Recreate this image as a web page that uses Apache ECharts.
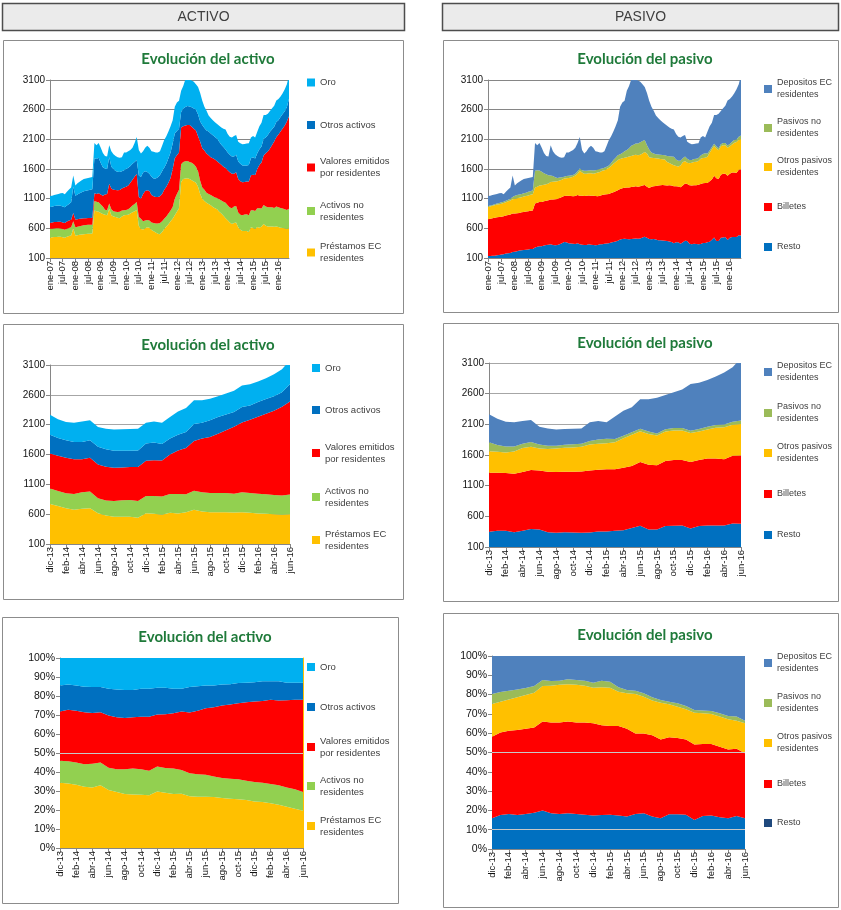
<!DOCTYPE html>
<html lang="es">
<head>
<meta charset="utf-8">
<title>Evolución del activo y del pasivo</title>
<script src="https://cdn.jsdelivr.net/npm/echarts@6/dist/echarts.min.js"></script>
<style>
html,body{margin:0;padding:0;background:#ffffff;}
#chart{width:841px;height:910px;}
</style>
</head>
<body>
<div id="chart"></div>
<script>
// ---------------- categories ----------------
const monthNames = ['ene','feb','mar','abr','may','jun','jul','ago','sep','oct','nov','dic'];
const longCategories = [];
for (let y = 2007; y <= 2016; y++) {
  for (let m = 0; m < 12; m++) {
    if (y === 2016 && m > 5) break;
    longCategories.push(monthNames[m] + '-' + String(y % 100).padStart(2, '0'));
  }
}
const shortStart = longCategories.indexOf('dic-13');
const shortCategories = longCategories.slice(shortStart);

// ---------------- ACTIVO (ene-07 .. jun-16) ----------------
const activoPrestamos = [
  445,450,455,455,460,458,450,440,460,470,480,
  600,480,485,490,495,500,505,508,510,512,
  900,890,880,860,840,830,820,930,820,800,
  790,780,770,800,820,825,830,850,870,890,
  910,640,590,580,600,620,610,570,550,530,
  510,500,540,590,630,670,720,760,820,880,
  940,1380,1430,1440,1445,1430,1410,1390,1370,1300,
  1180,1100,1060,1030,1010,990,960,940,920,880,850,810,
  770,735,700,672,689,700,617,578,556,556,556,539,617,606,589,622,611,633,672,644,633,633,633,628,633,622,611,606,600,589,600];
const activoNoResidentes = [
  149,145,143,145,140,140,140,135,135,135,140,
  120,140,140,145,150,150,150,152,150,150,
  160,160,160,140,130,85,85,90,100,90,
  90,95,110,100,85,85,90,100,115,120,
  135,150,170,140,130,120,120,130,140,150,
  170,190,180,170,170,180,180,200,280,300,
  310,300,290,290,290,290,295,290,270,260,
  220,190,190,170,170,170,180,180,190,210,220,240,
  260,255,250,267,278,278,250,250,266,277,283,283,289,300,305,317,328,300,322,323,323,323,323,316,334,334,333,327,322,322,328];
const activoValores = [
  101,105,107,108,112,112,110,115,120,125,125,
  140,130,130,125,120,120,117,115,115,116,
  130,130,150,170,180,255,275,330,350,360,
  365,365,365,370,385,390,400,420,435,460,
  475,340,340,460,500,500,500,460,450,450,
  450,450,460,490,500,520,550,640,680,650,
  630,620,600,605,605,620,605,600,610,590,
  660,660,660,660,650,640,640,640,620,610,600,590,
  585,588,594,583,555,566,566,566,556,550,550,567,588,599,606,661,728,778,834,900,938,990,1050,1120,1170,1225,1290,1350,1410,1490,1560];
const activoOtros = [
  265,265,270,272,273,270,270,265,270,280,295,
  440,400,415,430,445,455,463,465,475,482,
  590,590,600,530,480,440,420,450,370,350,
  320,315,305,290,290,300,300,280,270,250,
  230,360,365,360,330,310,290,310,300,310,
  330,360,380,370,390,410,430,430,420,410,
  400,260,300,310,320,315,330,340,350,370,
  340,390,380,390,400,400,390,380,380,360,340,330,
  315,300,295,289,289,295,295,295,283,278,272,278,289,295,278,267,266,267,283,266,278,282,266,247,257,241,244,246,243,243,295];
const activoOro = [
  185,185,185,190,195,210,225,220,230,245,250,
  190,170,190,195,200,205,205,210,205,205,
  260,230,250,260,240,210,210,200,260,250,
  255,245,240,240,300,280,280,270,270,320,
  390,430,395,360,400,440,440,430,450,440,
  420,400,430,470,460,450,440,390,450,480,
  470,360,380,465,460,455,450,450,430,460,
  480,410,360,330,270,260,250,250,250,270,290,310,
  335,312,305,322,344,333,333,344,356,361,367,366,350,355,355,361,389,400,400,378,361,350,350,356,362,356,344,349,369,386,397];

// ---------------- PASIVO (ene-07 .. jun-16) ----------------
const pasivoResto = [
  135,135,138,140,145,150,160,165,175,180,185,
  200,205,215,225,230,235,240,245,250,250,
  275,290,300,300,310,320,325,330,320,315,
  320,330,350,370,365,350,345,340,335,350,
  330,325,320,320,330,325,320,315,320,330,
  330,340,345,350,360,370,380,390,410,420,
  425,420,415,420,425,430,425,430,445,460,
  440,420,415,420,410,400,400,395,390,385,380,370,
  347,364,364,342,364,392,386,342,331,342,336,331,336,353,353,364,375,408,447,386,386,441,447,452,403,441,452,452,452,485,480];
const pasivoBilletes = [
  617,625,632,638,640,640,635,640,640,645,650,
  650,645,640,635,640,640,645,645,645,650,
  745,740,745,745,745,745,750,755,765,775,
  775,780,780,775,785,798,800,800,810,810,
  820,823,825,830,825,825,830,830,820,820,
  830,830,830,830,835,840,845,850,855,855,
  860,870,875,875,875,880,875,880,875,870,
  860,860,885,890,905,920,925,935,935,935,945,950,
  964,947,941,952,958,963,963,986,991,986,992,1002,1013,1007,1013,1002,1018,1013,1040,1057,1046,1063,1073,1068,1084,1079,1090,1090,1079,1101,1112];
const pasivoOtros = [
  208,210,210,212,215,218,220,220,225,230,235,
  240,250,250,255,255,260,260,265,270,275,
  270,270,275,280,280,280,280,295,300,300,
  300,295,290,295,295,302,310,330,345,360,
  420,392,375,370,375,380,370,385,400,400,
  410,410,425,440,455,480,495,510,505,505,
  505,510,520,525,530,530,530,530,540,555,
  560,520,490,475,465,455,445,435,435,400,375,360,
  352,341,336,364,391,380,358,368,385,390,396,402,424,424,424,440,480,510,500,501,484,479,479,479,473,463,473,501,523,507,512];
const pasivoNoResidentes = [
  17,15,15,15,18,20,25,25,25,25,30,
  40,50,55,55,55,55,55,60,60,65,
  280,280,255,230,195,165,140,110,95,70,
  55,50,40,30,35,35,35,30,30,40,
  40,40,50,50,45,50,55,50,50,50,
  40,40,40,40,50,60,70,80,80,90,
  110,120,140,170,180,190,200,210,210,205,
  140,130,90,75,70,70,70,70,70,100,115,130,
  143,110,99,80,70,75,65,55,45,50,50,50,55,70,75,55,40,40,40,40,35,35,40,40,35,40,45,45,45,50,60];
const pasivoDepositos = [
  168,165,165,165,162,162,155,125,150,175,190,
  360,170,200,215,230,240,240,235,230,225,
  470,420,465,405,340,310,315,510,420,390,
  370,345,330,330,400,395,410,420,440,480,
  530,340,290,330,385,410,385,320,300,280,
  270,280,350,430,450,480,530,590,800,850,
  850,1000,1050,1120,1110,1080,1060,1020,960,890,
  880,820,770,720,650,615,580,555,530,510,485,470,
  459,428,404,395,372,362,289,282,265,254,254,248,305,301,268,367,409,407,484,527,582,560,583,628,761,755,762,790,845,887,1016];

// ---------------- % structure (dic-13 .. jun-16) ----------------
const pctPrestamos   = [34.4,34.0,33.3,32.3,31.9,33.0,30.5,29.5,28.4,28.2,28.0,27.7,29.8,29.1,28.4,28.6,27.3,27.0,27.0,26.8,26.3,25.9,25.6,25.2,24.5,24.2,23.5,22.8,21.7,20.6,19.6];
const pctActNoRes    = [11.5,11.7,11.7,11.8,12.4,12.0,11.8,11.9,13.0,13.6,13.4,12.9,13.1,13.0,13.4,12.5,12.0,11.8,11.5,10.8,10.6,10.6,10.6,10.2,10.2,10.2,10.2,10.2,10.2,10.3,9.9];
const pctValores     = [25.9,27.1,27.3,27.3,26.8,26.4,27.4,27.4,27.0,27.0,27.7,28.5,27.3,28.3,29.1,30.7,32.0,33.5,35.0,36.5,38.1,39.0,40.0,41.3,42.4,43.0,44.3,44.6,45.9,47.1,48.5];
const pctOtrosAct    = [13.7,13.3,13.2,13.5,13.7,13.4,14.1,14.6,14.8,14.4,14.7,14.7,14.1,13.9,12.9,12.0,13.4,12.8,12.0,11.4,11.1,10.7,10.6,10.3,10.2,10.3,9.7,10.1,9.2,9.0,9.0];
const pctOro         = [14.5,13.9,14.5,15.1,15.2,15.2,16.2,16.6,16.8,16.8,16.2,16.2,15.7,15.7,16.2,16.2,15.3,14.9,14.5,14.5,13.9,13.8,13.2,13.0,12.7,12.3,12.3,12.3,13.0,13.0,13.0];

const pctResto       = [15.9,17.6,18.1,17.6,18.1,18.8,19.9,18.5,18.1,18.5,18.1,17.8,17.3,17.6,17.8,17.3,16.8,18.1,18.5,16.8,15.9,18.0,18.0,17.8,15.0,17.1,17.3,16.4,15.9,17.1,15.9];
const pctBilletes    = [42.3,42.7,43.2,44.1,44.2,44.2,46.2,47.0,47.4,47.6,47.4,47.7,47.8,46.5,45.9,46.4,45.5,41.8,41.4,42.1,40.9,39.9,39.5,39.0,39.1,37.3,37.1,36.6,35.7,34.9,33.7];
const pctOtrosPas    = [16.9,16.0,16.2,16.9,17.5,18.0,18.4,19.1,19.6,19.2,19.6,19.1,18.5,19.7,19.9,17.8,18.4,20.4,19.0,18.0,19.0,17.1,16.2,15.6,16.5,15.9,15.5,15.6,15.6,14.5,15.5];
const pctPasNoRes    = [5.2,5.0,4.5,4.1,3.6,3.5,3.1,2.4,2.1,2.6,2.5,2.6,2.6,3.4,3.1,2.3,1.7,1.7,1.8,1.7,1.4,1.3,1.8,1.7,1.4,1.4,1.6,1.7,1.7,2.1,1.4];
const pctDepositos   = [19.7,18.7,18.0,17.3,16.6,15.5,12.4,13.0,12.8,12.1,12.4,12.8,13.8,12.8,13.3,16.2,17.6,18.0,19.3,21.4,22.8,23.7,24.5,25.9,28.0,28.3,28.5,29.7,31.1,31.4,33.5];

// ---------------- styling ----------------
const FONT = "'Liberation Sans', Arial, sans-serif";
const TITLE_FONT = "Lato, 'Open Sans', sans-serif";
const COL = {
  oro:'#00B0F0', otrosAct:'#0070C0', valores:'#FF0000', actNoRes:'#92D050', prestamos:'#FFC000',
  depositos:'#4F81BD', pasNoRes:'#9BBB59', otrosPas:'#FFC000', billetes:'#FF0000', resto:'#0070C0'
};
const legendLabel = {
  'Oro':'Oro', 'Otros activos':'Otros activos',
  'Valores emitidos por residentes':'Valores emitidos\npor residentes',
  'Activos no residentes':'Activos no\nresidentes',
  'Préstamos EC residentes':'Préstamos EC\nresidentes',
  'Depositos EC residentes':'Depositos EC\nresidentes',
  'Pasivos no residentes':'Pasivos no\nresidentes',
  'Otros pasivos residentes':'Otros pasivos\nresidentes',
  'Billetes':'Billetes', 'Resto':'Resto'
};

function activoLayers(p, a, v, o, g) {
  return [
    {name:'Préstamos EC residentes', data:p, color:COL.prestamos},
    {name:'Activos no residentes', data:a, color:COL.actNoRes},
    {name:'Valores emitidos por residentes', data:v, color:COL.valores},
    {name:'Otros activos', data:o, color:COL.otrosAct},
    {name:'Oro', data:g, color:COL.oro}
  ];
}
function pasivoLayers(r, b, o, n, d) {
  return [
    {name:'Resto', data:r, color:COL.resto},
    {name:'Billetes', data:b, color:COL.billetes},
    {name:'Otros pasivos residentes', data:o, color:COL.otrosPas},
    {name:'Pasivos no residentes', data:n, color:COL.pasNoRes},
    {name:'Depositos EC residentes', data:d, color:COL.depositos}
  ];
}
const sl = arr => arr.slice(shortStart);

const panels = [
  { grid:[50,80,239,178], title:'Evolución del activo', tx:203, ty:57, cats:longCategories, lblInt:5, pct:false,
    gridColor:'#868686', xFont:9.5, yFont:10, legFont:9.5,
    layers:activoLayers(activoPrestamos, activoNoResidentes, activoValores, activoOtros, activoOro),
    legX:307, legY:[82.5,125,167.5,211,252.5] },
  { grid:[488,80,253,178], title:'Evolución del pasivo', tx:640, ty:57, cats:longCategories, lblInt:5, pct:false,
    gridColor:'#868686', xFont:9.5, yFont:10, legFont:9,
    layers:pasivoLayers(pasivoResto, pasivoBilletes, pasivoOtros, pasivoNoResidentes, pasivoDepositos),
    legX:764, legY:[89,128,167,207,247] },
  { grid:[50,365,240,179], title:'Evolución del activo', tx:203, ty:343, cats:shortCategories, lblInt:1, pct:false,
    gridColor:'#a6a6a6', xFont:9.5, yFont:10, legFont:9.5,
    layers:activoLayers(sl(activoPrestamos), sl(activoNoResidentes), sl(activoValores), sl(activoOtros), sl(activoOro)),
    legX:312, legY:[368,410,453,497,540] },
  { grid:[489,363,252,184], title:'Evolución del pasivo', tx:640, ty:341, cats:shortCategories, lblInt:1, pct:false,
    gridColor:'#a6a6a6', xFont:9.5, yFont:10, legFont:9,
    layers:pasivoLayers(sl(pasivoResto), sl(pasivoBilletes), sl(pasivoOtros), sl(pasivoNoResidentes), sl(pasivoDepositos)),
    legX:764, legY:[372,413,453,494,535] },
  { grid:[60,658,243,190], title:'Evolución del activo', tx:200, ty:635, cats:shortCategories, lblInt:1, pct:true,
    gridColor:'#bfbfbf', xFont:9.5, yFont:10.5, legFont:9.5, marks:[50], rightLine:'#FFC000',
    layers:activoLayers(pctPrestamos, pctActNoRes, pctValores, pctOtrosAct, pctOro),
    legX:307, legY:[667,707,747,786,826] },
  { grid:[492,656,253,193], title:'Evolución del pasivo', tx:640, ty:633, cats:shortCategories, lblInt:1, pct:true,
    gridColor:'#bfbfbf', xFont:9.5, yFont:10.5, legFont:9, marks:[50,10], restoLegend:'#1F497D',
    layers:pasivoLayers(pctResto, pctBilletes, pctOtrosPas, pctPasNoRes, pctDepositos),
    legX:764, legY:[663,703,743,784,823] }
];

const grids = [], xAxes = [], yAxes = [], series = [], titles = [], legends = [];
const extraY = [];

panels.forEach((p, i) => {
  grids.push({left:p.grid[0], top:p.grid[1], width:p.grid[2], height:p.grid[3], containLabel:false, outerBoundsMode:'none'});
  xAxes.push({
    type:'category', gridIndex:i, data:p.cats, boundaryGap:false,
    axisLine:{show:true, onZero:false, lineStyle:{color:'#868686', width:1}},
    axisTick:{show:true, interval:p.lblInt, length:4, lineStyle:{color:'#868686'}},
    axisLabel:{interval:p.lblInt, rotate:90, fontSize:p.xFont, color:'#111', fontFamily:FONT, margin:3},
    splitLine:{show:false}
  });
  yAxes.push({
    type:'value', gridIndex:i,
    min: p.pct ? 0 : 100, max: p.pct ? 100 : 3100, interval: p.pct ? 10 : 500,
    axisLine:{show:true, lineStyle:{color:'#868686', width:1}},
    axisTick:{show:true, length:4, lineStyle:{color:'#868686'}},
    axisLabel:{fontSize:p.yFont, color:'#111', fontFamily:FONT, margin:5,
      formatter: p.pct ? (v => String(v) + '%') : (v => String(v))},
    splitLine:{show:!p.pct, lineStyle:{color:p.gridColor, width:1}}
  });
  if (p.rightLine) {
    extraY.push({
      type:'value', gridIndex:i, position:'right', min:0, max:100,
      axisLine:{show:true, lineStyle:{color:p.rightLine, width:1}},
      axisTick:{show:false}, axisLabel:{show:false}, splitLine:{show:false}
    });
  }
  const stack = 'stack' + i;
  p.layers.forEach((L, k) => {
    const s = {
      name:L.name, type:'line', data:L.data, xAxisIndex:i, yAxisIndex:i, stack:stack,
      areaStyle:{color:L.color, opacity:1}, itemStyle:{color:L.color},
      lineStyle:{width:0, opacity:0, color:L.color},
      symbol:'none', showSymbol:false, smooth:false, silent:true,
      emphasis:{disabled:true}, clip:true, z:2
    };
    if (p.marks && k === p.layers.length - 1) {
      s.markLine = {
        silent:true, symbol:'none', label:{show:false}, animation:false,
        lineStyle:{color:'#c8c8c8', width:1, type:'solid'},
        data:p.marks.map(v => ({yAxis:v}))
      };
    }
    series.push(s);
  });
  titles.push({
    text:p.title, left:p.tx, top:p.ty - 10, textAlign:'center',
    textStyle:{fontFamily:TITLE_FONT, fontWeight:'bold', fontSize:15, color:'#1F7A3A'}
  });
  const order = p.layers.slice().reverse();
  order.forEach((L, k) => {
    const lbl = legendLabel[L.name];
    const two = lbl.indexOf('\n') >= 0;
    const item = {name:L.name};
    if (p.restoLegend && L.name === 'Resto') item.itemStyle = {color:p.restoLegend};
    legends.push({
      show:true, orient:'vertical', left:p.legX, top: two ? p.legY[k] - 18 : p.legY[k] - 6,
      padding:0, itemGap:0, itemWidth:8, itemHeight:8, icon:'rect', selectedMode:false,
      itemStyle:{borderWidth:0},
      data:[item],
      formatter: () => lbl,
      textStyle:{fontFamily:FONT, fontSize:p.legFont, color:'#404040', lineHeight:12, padding: two ? [12,0,0,0] : 0}
    });
  });
});

const frames = [
  [3.5,40.5,400,273], [443.5,40.5,395,272],
  [3.5,324.5,400,275], [443.5,323.5,395,278],
  [2.5,617.5,396,286], [443.5,613.5,395,294]
];
const graphics = [];
frames.forEach(f => graphics.push({
  type:'rect', silent:true, z:-10,
  shape:{x:f[0], y:f[1], width:f[2], height:f[3]},
  style:{fill:'#ffffff', stroke:'#8c8c8c', lineWidth:1}
}));
const headers = [
  {x:2, w:403, text:'ACTIVO'},
  {x:442, w:397, text:'PASIVO'}
];
headers.forEach(h => {
  graphics.push({
    type:'rect', silent:true, z:-10,
    shape:{x:h.x + 0.5, y:3.5, width:h.w - 1, height:27},
    style:{fill:'#ebebeb', stroke:'#4d4d4d', lineWidth:1.5}
  });
  graphics.push({
    type:'text', silent:true, z:10,
    x:h.x + h.w / 2, y:17,
    style:{text:h.text, fill:'#3f3f3f', font:"14px 'Liberation Sans', Arial, sans-serif", textAlign:'center', textVerticalAlign:'middle'}
  });
});

const chart = echarts.init(document.getElementById('chart'), null, {renderer:'canvas', width:841, height:910});
chart.setOption({
  backgroundColor:'#ffffff',
  animation:false,
  title:titles,
  legend:legends,
  grid:grids,
  xAxis:xAxes,
  yAxis:yAxes.concat(extraY),
  series:series,
  graphic:graphics
});
</script>
</body>
</html>
